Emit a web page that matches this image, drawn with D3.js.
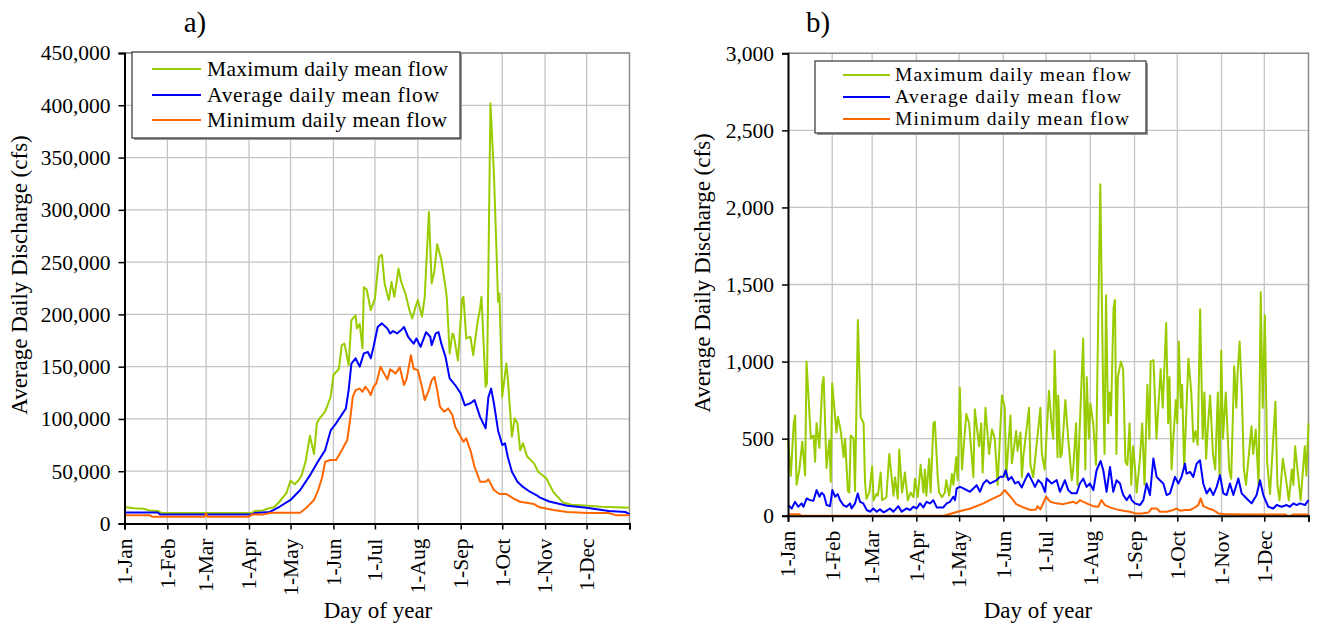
<!DOCTYPE html>
<html>
<head>
<meta charset="utf-8">
<script src="https://cdn.jsdelivr.net/npm/d3@7"></script>
<style>
  body { margin: 0; background: #fff; }
  svg text { font-family: "Liberation Serif", "Times New Roman", serif; fill: #000; }
</style>
</head>
<body>
<div id="chart"></div>
<script>
// month start days and labels
var monthDays = [0, 31, 59, 90, 120, 151, 181, 212, 243, 273, 304, 334];
var monthLabels = ['1-Jan', '1-Feb', '1-Mar', '1-Apr', '1-May', '1-Jun', '1-Jul', '1-Aug', '1-Sep', '1-Oct', '1-Nov', '1-Dec'];
var seriesNames = ['Maximum daily mean flow', 'Average daily mean flow', 'Minimum daily mean flow'];

// panel a (thousands of cfs)
var aMaxDays = [0, 7, 14, 18, 24, 27, 60, 92, 94, 100, 103, 106, 108, 112, 117, 120, 123, 126, 128, 131, 134, 137, 139, 141, 145, 149, 151, 155, 157, 159, 162, 164, 167, 168, 170, 172, 173, 175, 178, 181, 184, 186, 188, 191, 193, 195, 197, 198, 200, 203, 206, 208, 210, 212, 215, 217, 220, 222, 224, 226, 229, 232, 233, 235, 237, 238, 241, 244, 245, 247, 250, 252, 255, 257, 258, 261, 262, 264.5, 267, 269, 270, 271, 273, 276, 277, 280, 282, 284, 286, 288, 291, 296, 299, 305, 310, 317, 323, 335, 345, 365];
var aMaxFlow = [15.8, 14.5, 14, 12.5, 12, 10, 10, 10, 12, 12.5, 14, 15, 15.5, 20.8, 29, 41, 37.5, 41.6, 46, 60, 84, 66.5, 95.8, 100.6, 107, 121, 142, 148, 170.6, 172, 151.5, 194.5, 199, 186.6, 191, 167.5, 226, 224, 204, 215, 255, 257, 229.6, 213.7, 231, 216.8, 234, 244, 231, 220, 204, 196, 205.7, 213.7, 197.7, 216.8, 298, 229.6, 242, 267, 252, 226, 215, 162.7, 181.8, 180, 156, 215, 216.8, 177, 178.6, 161, 191, 205.7, 216.8, 130.8, 134, 402, 334.8, 255, 212, 220, 121, 153, 140, 83, 100.6, 96, 70, 76.7, 64, 57.5, 49.5, 43, 30, 20, 18, 17, 16, 15];

var aAvgDays = [0, 24, 26, 92, 94, 105, 112, 120, 127, 134, 139, 145, 149, 152, 156, 160, 162, 164, 167, 170, 173, 176, 178, 180, 183, 186, 190, 192, 194, 197, 200, 202, 205, 209, 211, 214, 218, 221, 222, 225, 227, 229, 232, 235, 239, 243, 246, 250, 253, 257, 261, 263, 265, 267, 270, 273, 275, 277, 280, 284, 288, 293, 298, 300, 307, 320, 334, 350, 362, 365];
var aAvgFlow = [10.5, 10.5, 8.5, 8.5, 10, 11, 16, 22.5, 32, 46, 57.5, 70, 89, 94, 102, 110, 127.6, 153, 158, 150, 162.7, 164, 158, 169, 188, 191.4, 186.6, 181.8, 184, 181.8, 185, 188, 178.6, 172, 177, 169, 183, 178.6, 170.6, 181.8, 183, 172, 159.5, 138.8, 132.4, 124.5, 113, 115, 118, 102, 91, 121, 129, 115, 89, 75, 76.7, 63.9, 49.5, 40, 35, 30.4, 27, 25, 21, 17, 15, 12, 11, 9];

var aMinDays = [0, 18, 20, 58, 59, 60, 90, 92, 100, 106, 127, 131, 137, 140, 143, 145, 149, 153, 157, 161, 163, 165, 167, 170, 172, 174, 176, 178, 180, 182, 185, 187, 190, 192, 196, 199, 202, 204, 207, 209, 212, 215, 217, 220, 222, 224, 226, 228, 231, 234, 237, 239, 243, 245, 247, 250, 253, 257, 261, 263, 267, 271, 276, 281, 286, 296, 300, 310, 320, 335, 350, 355, 365];
var aMinFlow = [8, 8, 6.5, 6.5, 9.5, 6.5, 6.5, 8.5, 8.5, 10.3, 10.3, 14.5, 22.5, 32, 44.7, 59, 60.7, 60.7, 70, 79.8, 99, 121, 127.6, 129, 126, 130.8, 127.6, 122.8, 130.8, 134, 150, 145, 137.8, 147.4, 143.6, 149.3, 132.4, 138.8, 161, 148, 146.7, 130.8, 118, 127.6, 137, 140.3, 127.6, 111.7, 106.9, 110, 103.7, 92.5, 83, 78.2, 81.4, 70, 54.3, 40, 40, 42.2, 32, 28.2, 28.2, 24, 20.8, 18.6, 15.5, 13, 11, 10, 10, 8, 8];

// panel b (cfs)
var bMaxDays = [0, 2, 4, 5, 6, 8, 10, 12, 13, 16, 18, 19, 20, 22, 24, 25, 27, 29, 30, 31, 32, 34, 35, 37, 39, 40, 42, 43, 44, 46, 47, 49, 51, 53, 54, 55, 57, 59, 60, 62, 63, 65, 66, 69, 71, 74, 75, 77, 78, 80, 82, 84, 86, 88, 89, 91, 93, 95, 96, 97, 99, 100, 102, 103, 105, 106, 108, 110, 111, 113, 115, 116, 118, 119, 120.5, 122, 125, 127, 130, 131, 134, 135.5, 136.5, 138.5, 141, 143, 145, 147, 150, 152, 153, 156, 157, 160, 161, 163, 164, 165, 169, 170, 172, 177, 178, 180, 183, 185, 186, 187, 189, 189.5, 191, 192, 194.5, 196.5, 199, 200, 202, 203, 207, 208.5, 209.5, 211, 212, 214, 216, 219, 221, 222, 223, 224.5, 225.5, 226.5, 228.3, 229.3, 230.3, 231.3, 233.4, 235, 236.6, 238, 239.5, 240.7, 242, 243.4, 244.5, 246.6, 248.4, 250, 252, 253.4, 254.3, 256.3, 258.4, 261.3, 262.8, 265.2, 266.6, 267.5, 269, 270.2, 272, 273, 274, 275.5, 276.4, 277.8, 279, 280.8, 282.8, 284.3, 285.8, 287.3, 289, 290.8, 292, 293.2, 294.6, 296, 298, 299.6, 301.4, 302.6, 303.8, 305, 307, 309.4, 310.8, 312.9, 314.4, 315.3, 316.7, 318.2, 319.7, 321.2, 325, 326.2, 328, 330, 331.5, 332.9, 334.4, 336, 338, 341.8, 343.2, 344.7, 347, 349, 351.2, 353.3, 354.4, 355.6, 359.5, 362.4, 363.5, 365];
var bMaxFlow = [500, 260, 600, 650, 200, 300, 480, 260, 1000, 500, 520, 350, 600, 440, 850, 900, 310, 490, 220, 860, 750, 540, 640, 550, 380, 500, 160, 150, 520, 500, 160, 1270, 640, 600, 220, 110, 150, 320, 100, 140, 130, 280, 100, 120, 400, 130, 250, 110, 430, 150, 280, 100, 150, 120, 240, 120, 330, 150, 300, 130, 370, 150, 600, 610, 250, 150, 120, 150, 230, 130, 270, 200, 380, 230, 830, 300, 660, 600, 250, 690, 450, 600, 280, 700, 400, 560, 500, 200, 780, 700, 250, 650, 340, 550, 420, 540, 250, 380, 700, 330, 250, 700, 400, 300, 810, 570, 500, 1070, 380, 780, 380, 400, 750, 500, 230, 300, 600, 200, 1150, 300, 900, 500, 730, 600, 330, 2150, 800, 400, 1430, 600, 800, 650, 1350, 1400, 400, 900, 1000, 950, 350, 330, 600, 200, 450, 300, 150, 350, 600, 200, 850, 500, 1000, 1010, 500, 950, 700, 1250, 600, 900, 300, 500, 750, 600, 1130, 700, 850, 300, 600, 1020, 800, 480, 550, 460, 1340, 500, 800, 370, 600, 780, 400, 300, 800, 250, 1070, 500, 800, 300, 240, 970, 700, 930, 1130, 800, 300, 200, 580, 400, 560, 200, 1450, 700, 1300, 350, 140, 740, 200, 100, 370, 250, 100, 300, 200, 450, 100, 450, 260, 600];

var bAvgDays = [0, 2.6, 4.9, 7.2, 9.6, 10.8, 13.1, 15.4, 17.8, 20.1, 22, 23.6, 25.2, 27.1, 29.5, 31.1, 33, 34.8, 36.5, 38.8, 41.1, 43.5, 44.6, 47, 48.9, 50.5, 52.8, 55.2, 57.5, 59.8, 62.2, 64.5, 66.9, 69.2, 71.5, 73.9, 77.4, 79.7, 83.2, 85.6, 87.9, 90.2, 92.6, 94.9, 97.2, 99.6, 101.9, 104.3, 108.9, 111.3, 113.6, 115.9, 117.1, 118.3, 120.6, 123, 125.3, 127.6, 130, 132.3, 134.6, 137, 139.3, 141.7, 144, 146.3, 148.7, 151, 152.6, 154.5, 156.8, 159.2, 161.5, 163.9, 166.2, 168.5, 170.9, 173.2, 175.5, 177.9, 180.2, 181.4, 184.9, 188.4, 190.7, 194.2, 196.5, 198.9, 202.4, 204.7, 207.1, 209.4, 211.7, 214.1, 216.4, 219.2, 221.1, 223.4, 225.8, 228.1, 230.4, 232.8, 234, 235.1, 237.5, 239.8, 241, 243.3, 246.8, 249.2, 251.5, 253.8, 256.2, 258.5, 260.8, 263.2, 265.5, 267.9, 271.4, 273.7, 276, 278.4, 279.5, 281.9, 284.2, 286.6, 288.9, 291.2, 293.6, 295.9, 298.2, 300.6, 302.9, 305.3, 307.6, 309.9, 312.3, 315.8, 318.1, 321.6, 325.1, 328.6, 331, 333.3, 336.8, 340.3, 342.7, 346.2, 349.7, 352, 354.4, 356.7, 359, 362.5, 365];
var bAvgFlow = [69, 47, 90, 58, 80, 58, 112, 101, 97, 166, 123, 149, 134, 69, 62, 166, 123, 140, 101, 69, 58, 80, 47, 80, 144, 90, 80, 37, 26, 47, 26, 41, 22, 32, 47, 26, 62, 26, 47, 37, 58, 47, 80, 54, 90, 80, 101, 54, 54, 80, 90, 123, 101, 177, 187, 177, 166, 155, 177, 198, 155, 209, 231, 209, 220, 231, 252, 252, 295, 231, 252, 209, 220, 183, 231, 274, 231, 187, 231, 209, 155, 241, 209, 231, 155, 230, 166, 145, 145, 209, 241, 187, 209, 166, 295, 355, 295, 155, 316, 155, 230, 209, 166, 134, 101, 134, 101, 80, 69, 101, 209, 134, 371, 252, 230, 209, 134, 145, 252, 209, 252, 338, 273, 284, 252, 338, 360, 209, 145, 177, 134, 187, 263, 145, 134, 209, 134, 241, 145, 112, 80, 134, 230, 134, 58, 47, 69, 58, 69, 58, 80, 69, 80, 69, 101];

var bMinDays = [0, 8, 9, 110, 111, 119, 128, 137, 144, 149, 152, 154, 157, 160, 165, 170, 174, 175, 177, 181, 184, 188, 193, 200, 202.4, 204.7, 207.1, 210.6, 214.1, 217.6, 219.7, 222.3, 225.8, 230.4, 235.1, 239.8, 243.3, 248, 252.7, 255, 258.5, 260.8, 265.5, 270.2, 272.5, 274.9, 278.4, 281.9, 284.2, 287.7, 289.4, 291.2, 294.7, 298.2, 301.8, 305.3, 320, 349, 350, 353, 354, 365];
var bMinFlow = [10, 10, 0, 0, 5, 26, 47, 80, 112, 134, 166, 144, 112, 75, 54, 37, 41, 62, 41, 123, 90, 80, 75, 90, 80, 101, 90, 75, 62, 58, 101, 69, 54, 41, 32, 26, 15, 15, 20, 47, 47, 26, 26, 37, 47, 32, 37, 37, 47, 69, 112, 62, 47, 37, 15, 11, 8, 8, 0, 0, 8, 8];

var colors = ['#99cc00', '#0000ff', '#ff6600'];
var serif = '"Liberation Serif", "Times New Roman", serif';

var svg = d3.select('#chart')
  .append('svg')
  .attr('width', 1317)
  .attr('height', 627);

function drawPanel(p) {
  var x = d3.scaleLinear().domain([0, 365]).range([p.left, p.right]);
  var y = d3.scaleLinear().domain([0, p.yMax]).range([p.bottom, p.top]);
  var g = svg.append('g');

  // grid
  g.selectAll('.hgrid')
    .data(p.yTicks.slice(1))
    .enter().append('line')
    .attr('x1', p.left).attr('x2', p.right)
    .attr('y1', d => y(d)).attr('y2', d => y(d))
    .attr('stroke', '#c4c4c4').attr('stroke-width', 1.3);
  g.selectAll('.vgrid')
    .data(monthDays.slice(1))
    .enter().append('line')
    .attr('x1', d => x(d)).attr('x2', d => x(d))
    .attr('y1', p.top).attr('y2', p.bottom)
    .attr('stroke', '#c4c4c4').attr('stroke-width', 1.3);

  // top/right border
  g.append('path')
    .attr('d', `M${p.left},${p.top}H${p.right}V${p.bottom}`)
    .attr('fill', 'none')
    .attr('stroke', '#8c8c8c')
    .attr('stroke-width', 1.5);

  // series
  var line = d3.line().x(d => x(d[0])).y(d => y(d[1]));
  p.series.forEach(function(s, i) {
    var pts = s.days.map((d, j) => [d, s.vals[j] * p.unit]);
    g.append('path')
      .datum(pts)
      .attr('d', line)
      .attr('fill', 'none')
      .attr('stroke', colors[i])
      .attr('stroke-width', 2)
      .attr('stroke-linejoin', 'round');
  });

  // axes
  var xAxis = g.append('g')
    .attr('transform', `translate(0,${p.bottom})`)
    .call(d3.axisBottom(x).tickValues(monthDays.concat([365])).tickSize(6).tickFormat(''));
  xAxis.select('.domain').attr('stroke', '#000').attr('stroke-width', 2);
  xAxis.selectAll('.tick line').attr('stroke', '#000').attr('stroke-width', 1.5);

  g.selectAll('.xlab')
    .data(monthDays)
    .enter().append('text')
    .attr('transform', (d, i) => `translate(${x(d)},${p.bottom + 15}) rotate(-90)`)
    .attr('text-anchor', 'end')
    .attr('dy', '0.34em')
    .style('font-family', serif)
    .style('font-size', '21.5px')
    .text((d, i) => monthLabels[i]);

  var yAxis = g.append('g')
    .attr('transform', `translate(${p.left},0)`)
    .attr('font-family', serif)
    .call(d3.axisLeft(y).tickValues(p.yTicks).tickSize(6).tickPadding(8).tickFormat(d3.format(',')));
  yAxis.attr('font-family', serif);
  yAxis.select('.domain').attr('stroke', '#000').attr('stroke-width', 2);
  yAxis.selectAll('.tick line').attr('stroke', '#000').attr('stroke-width', 1.5);
  yAxis.selectAll('.tick text')
    .style('font-size', '21.5px')
    .style('font-family', serif);

  // titles
  g.append('text')
    .attr('x', p.titleX).attr('y', 32)
    .attr('text-anchor', 'middle')
    .style('font-family', serif)
    .style('font-size', '29px')
    .text(p.title);

  g.append('text')
    .attr('x', p.xTitleX).attr('y', 618)
    .attr('text-anchor', 'middle')
    .style('font-family', serif)
    .style('font-size', '23px')
    .text('Day of year');

  g.append('text')
    .attr('transform', `translate(${p.yTitleX},${p.yTitleY}) rotate(-90)`)
    .attr('text-anchor', 'middle')
    .attr('dy', '0.35em')
    .style('font-family', serif)
    .style('font-size', '23px')
    .text('Average Daily Discharge (cfs)');

  // legend
  var lg = g.append('g');
  lg.append('rect')
    .attr('x', p.lx + 2).attr('y', p.ly + 2)
    .attr('width', p.lw).attr('height', p.lh)
    .attr('fill', '#9a9a9a');
  lg.append('rect')
    .attr('x', p.lx).attr('y', p.ly)
    .attr('width', p.lw).attr('height', p.lh)
    .attr('fill', '#fff')
    .attr('stroke', '#333').attr('stroke-width', 1.2);
  seriesNames.forEach(function(name, i) {
    var ry = p.rows[i];
    lg.append('line')
      .attr('x1', p.lineX0).attr('x2', p.lineX1)
      .attr('y1', ry).attr('y2', ry)
      .attr('stroke', colors[i]).attr('stroke-width', 2);
    lg.append('text')
      .attr('x', p.textX).attr('y', ry)
      .attr('dy', '0.33em')
      .attr('textLength', p.textLen[i])
      .attr('lengthAdjust', 'spacing')
      .style('font-family', serif)
      .style('font-size', p.legendFont)
      .text(name);
  });
}

drawPanel({
  left: 124.5, right: 629.5, top: 53, bottom: 523.5,
  yMax: 450000, yTicks: d3.range(0, 450001, 50000), unit: 1000,
  title: 'a)', titleX: 195, xTitleX: 378, yTitleX: 19, yTitleY: 275,
  series: [
    {days: aMaxDays, vals: aMaxFlow},
    {days: aAvgDays, vals: aAvgFlow},
    {days: aMinDays, vals: aMinFlow}
  ],
  lx: 132, ly: 52, lw: 328, lh: 86,
  rows: [69, 95, 120], lineX0: 152, lineX1: 201, textX: 207, legendFont: '21.5px',
  textLen: [241, 232, 240]
});

drawPanel({
  left: 788, right: 1308.5, top: 53.3, bottom: 515.7,
  yMax: 3000, yTicks: d3.range(0, 3001, 500), unit: 1,
  title: 'b)', titleX: 818, xTitleX: 1038, yTitleX: 702, yTitleY: 273,
  series: [
    {days: bMaxDays, vals: bMaxFlow},
    {days: bAvgDays, vals: bAvgFlow},
    {days: bMinDays, vals: bMinFlow}
  ],
  lx: 815, ly: 61, lw: 331, lh: 72,
  rows: [75, 97, 119], lineX0: 843, lineX1: 890, textX: 895, legendFont: '19.5px',
  textLen: [236, 226, 234]
});
</script>
</body>
</html>
